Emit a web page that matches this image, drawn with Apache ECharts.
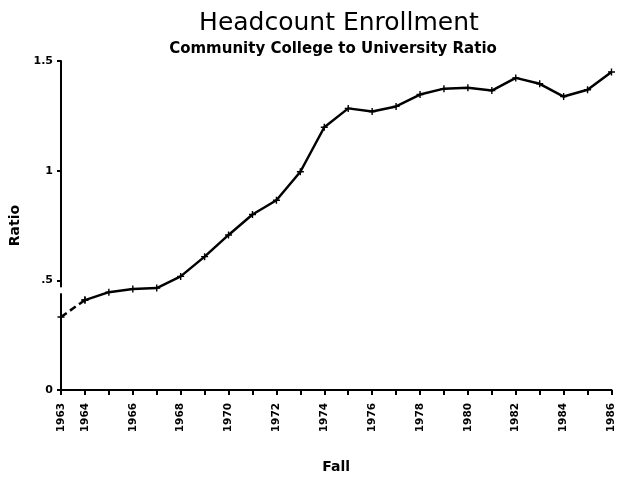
<!DOCTYPE html>
<html><head><meta charset="utf-8">
<script src="https://cdn.jsdelivr.net/npm/echarts@6/dist/echarts.min.js"></script>
<style>html,body{margin:0;padding:0;background:#fff}#c{width:617px;height:479px}</style>
</head><body><div id="c"></div>
<script>
var years = [1963,1964,1965,1966,1967,1968,1969,1970,1971,1972,1973,1974,1975,1976,1977,1978,1979,1980,1981,1982,1983,1984,1985,1986];
var ratios = [0.333,0.41,0.446,0.46,0.465,0.518,0.608,0.707,0.80,0.865,0.995,1.198,1.284,1.27,1.293,1.347,1.374,1.378,1.365,1.423,1.396,1.338,1.369,1.45];
var xTickLabels = [1963,1964,1966,1968,1970,1972,1974,1976,1978,1980,1982,1984,1986];
var yTickLabels = {0:'0',0.5:'.5',1:'1',1.5:'1.5'};

var dashedPart = years.map(function(y,i){return [y, i<=1 ? ratios[i] : null];});
var solidPart = years.map(function(y,i){return [y, i>=1 ? ratios[i] : null];});
var plus = 'path://M4,0h2v4h4v2h-4v4h-2v-4h-4v-2h4z';
var font = 'DejaVu Sans';
var chart = echarts.init(document.getElementById('c'));
chart.setOption({
  animation:false,
  title:[
    {text:'Headcount Enrollment', left:334, top:6, textAlign:'center',
     textStyle:{fontFamily:font, fontSize:25, fontWeight:'normal', color:'#000'}},
    {text:'Community College to University Ratio', left:328, top:37, textAlign:'center',
     textStyle:{fontFamily:font, fontSize:15, fontWeight:'bold', color:'#000'}}
  ],
  grid:{left:61, right:4, top:61, bottom:85},
  xAxis:{type:'value', min:1963, max:1986, interval:1,
    name:'Fall', nameLocation:'middle', nameGap:70,
    nameTextStyle:{fontFamily:font, fontSize:14, fontWeight:'bold', color:'#000'},
    axisLine:{lineStyle:{color:'#000', width:2}},
    axisTick:{show:true, length:5, lineStyle:{color:'#000', width:2}},
    splitLine:{show:false},
    axisLabel:{rotate:90, fontFamily:font, fontSize:10.5, fontWeight:'bold', color:'#000', margin:13,
      showMinLabel:true, showMaxLabel:true,
      formatter:function(v){return xTickLabels.indexOf(v)>=0 ? String(v) : '';}}
  },
  yAxis:{type:'value', min:0, max:1.5, interval:0.5,
    name:'Ratio', nameLocation:'middle', nameGap:38, nameRotate:90,
    nameTextStyle:{fontFamily:font, fontSize:14, fontWeight:'bold', color:'#000'},
    axisLine:{show:true, lineStyle:{color:'#000', width:2}},
    axisTick:{show:true, length:4, lineStyle:{color:'#000', width:2}},
    splitLine:{show:false},
    axisLabel:{fontFamily:font, fontSize:11, fontWeight:'bold', color:'#000', margin:8,
      formatter:function(v){return yTickLabels[v]!==undefined ? yTickLabels[v] : '';}}
  },
  series:[
    {type:'line', data:dashedPart, showSymbol:true, symbol:plus, symbolSize:7,
     itemStyle:{color:'#000'}, lineStyle:{color:'#000', width:2.5, type:[7,4]}, z:3},
    {type:'line', data:solidPart, showSymbol:true, symbol:plus, symbolSize:7,
     itemStyle:{color:'#000'}, lineStyle:{color:'#000', width:2.5}, z:3}
  ]
});
var p = chart.convertToPixel({gridIndex:0}, [1963, 0.45]);
chart.setOption({graphic:[{type:'rect', shape:{x:p[0]-4, y:p[1]-4, width:8, height:6}, style:{fill:'#fff'}, z:10}]});
</script></body></html>
